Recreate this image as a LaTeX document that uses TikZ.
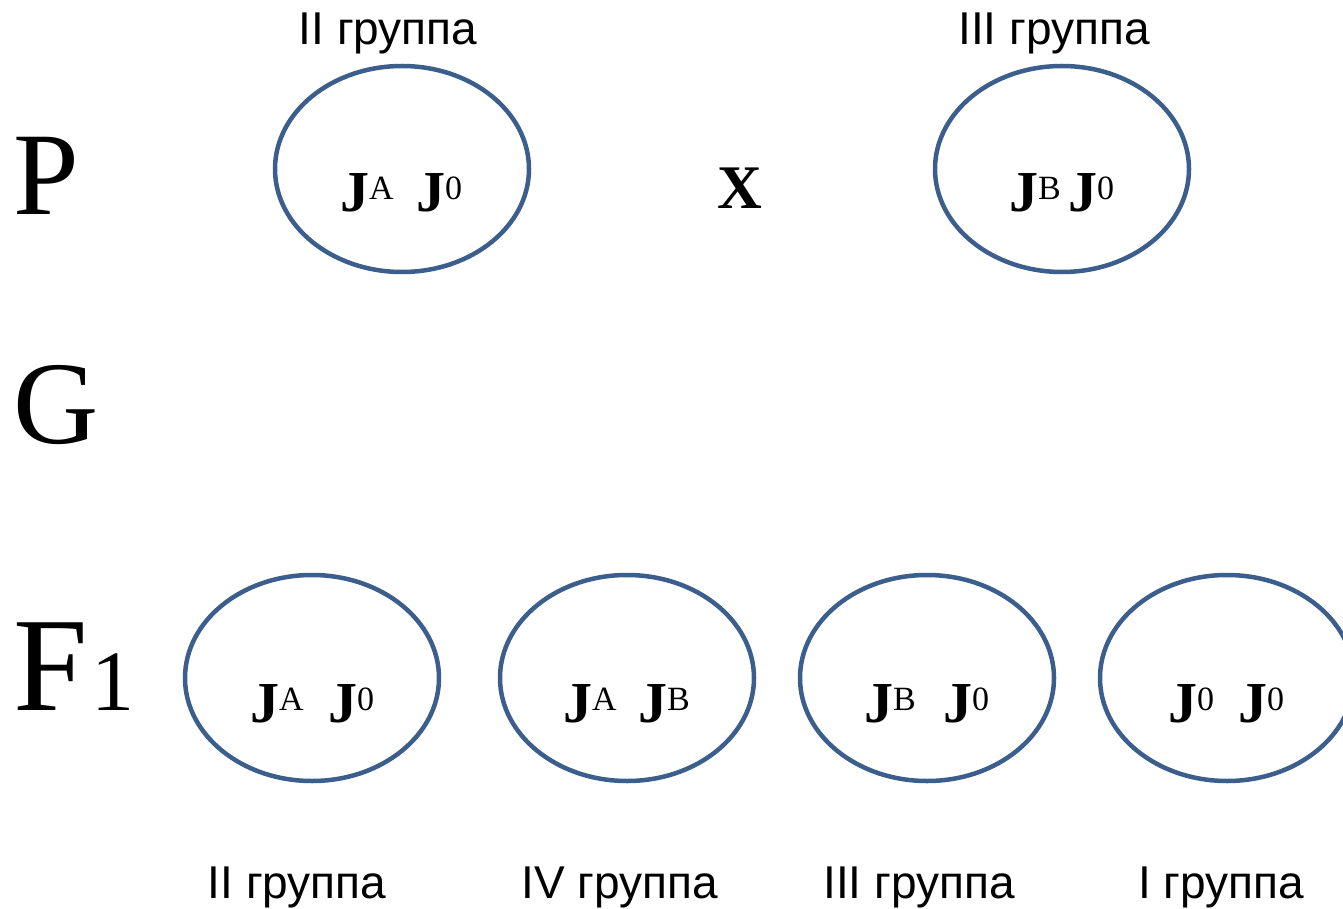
\documentclass[tikz,border=0pt]{standalone}
\usepackage{fontspec}
\setmainfont{Liberation Serif}
\newfontfamily\lsans{Liberation Sans}
\usetikzlibrary{shapes.geometric}
\definecolor{ellblue}{RGB}{59,94,140}
\newcommand\fs[1]{\fontsize{#1}{#1}\selectfont}
\newcommand\Jx[1]{\textbf{J}\raisebox{12pt}{\fs{34}#1}}
\begin{document}
\begin{tikzpicture}[x=1pt,y=-1pt,
  ell/.style={draw=ellblue,line width=4.5pt,ellipse,minimum width=254pt,minimum height=206pt,inner sep=0pt},
  grp/.style={font=\lsans\fs{46},anchor=base,inner sep=0pt},
  big/.style={font=\fs{118},anchor=base west,inner sep=0pt},
  jt/.style={font=\fs{58},anchor=base west,inner sep=0pt}]
\useasboundingbox (0,0) rectangle (1343,909);
% row labels
\node[big] (P) at (13,215) {P};
\node[big] (G) at (13,443) {G};
\node[big,font=\fs{134}] (F) at (13,710) {F\hspace{4pt}\fs{86}1};
% P row
\node[ell] (e1) at (402,169) {};
\node[ell] (e2) at (1062,169) {};
\node[grp] (g1) at (388,45) {II группа};
\node[grp] (g2) at (1054,45) {III группа};
\node[font=\fs{62}\bfseries,anchor=base,inner sep=0pt] (x) at (740,209) {X};
\node[jt] (j1a) at (340,212) {\Jx{A}};
\node[jt] (j1b) at (416,212) {\Jx{0}};
\node[jt] (j2a) at (1009,212) {\Jx{B}};
\node[jt] (j2b) at (1068,212) {\Jx{0}};
% F1 row
\node[ell] (f1) at (312,678) {};
\node[ell] (f2) at (627,678) {};
\node[ell] (f3) at (927,678) {};
\node[ell] (f4) at (1227,678) {};
\node[jt] (k1a) at (250,722) {\Jx{A}};
\node[jt] (k1b) at (328,722) {\Jx{0}};
\node[jt] (k2a) at (563,722) {\Jx{A}};
\node[jt] (k2b) at (638,722) {\Jx{B}};
\node[jt] (k3a) at (864,722) {\Jx{B}};
\node[jt] (k3b) at (943,722) {\Jx{0}};
\node[jt] (k4a) at (1168,722) {\Jx{0}};
\node[jt] (k4b) at (1238,722) {\Jx{0}};
\node[grp] (h1) at (297,898) {II группа};
\node[grp] (h2) at (620,898) {IV группа};
\node[grp] (h3) at (919,898) {III группа};
\node[grp] (h4) at (1221,898) {I группа};
\end{tikzpicture}
\end{document}
